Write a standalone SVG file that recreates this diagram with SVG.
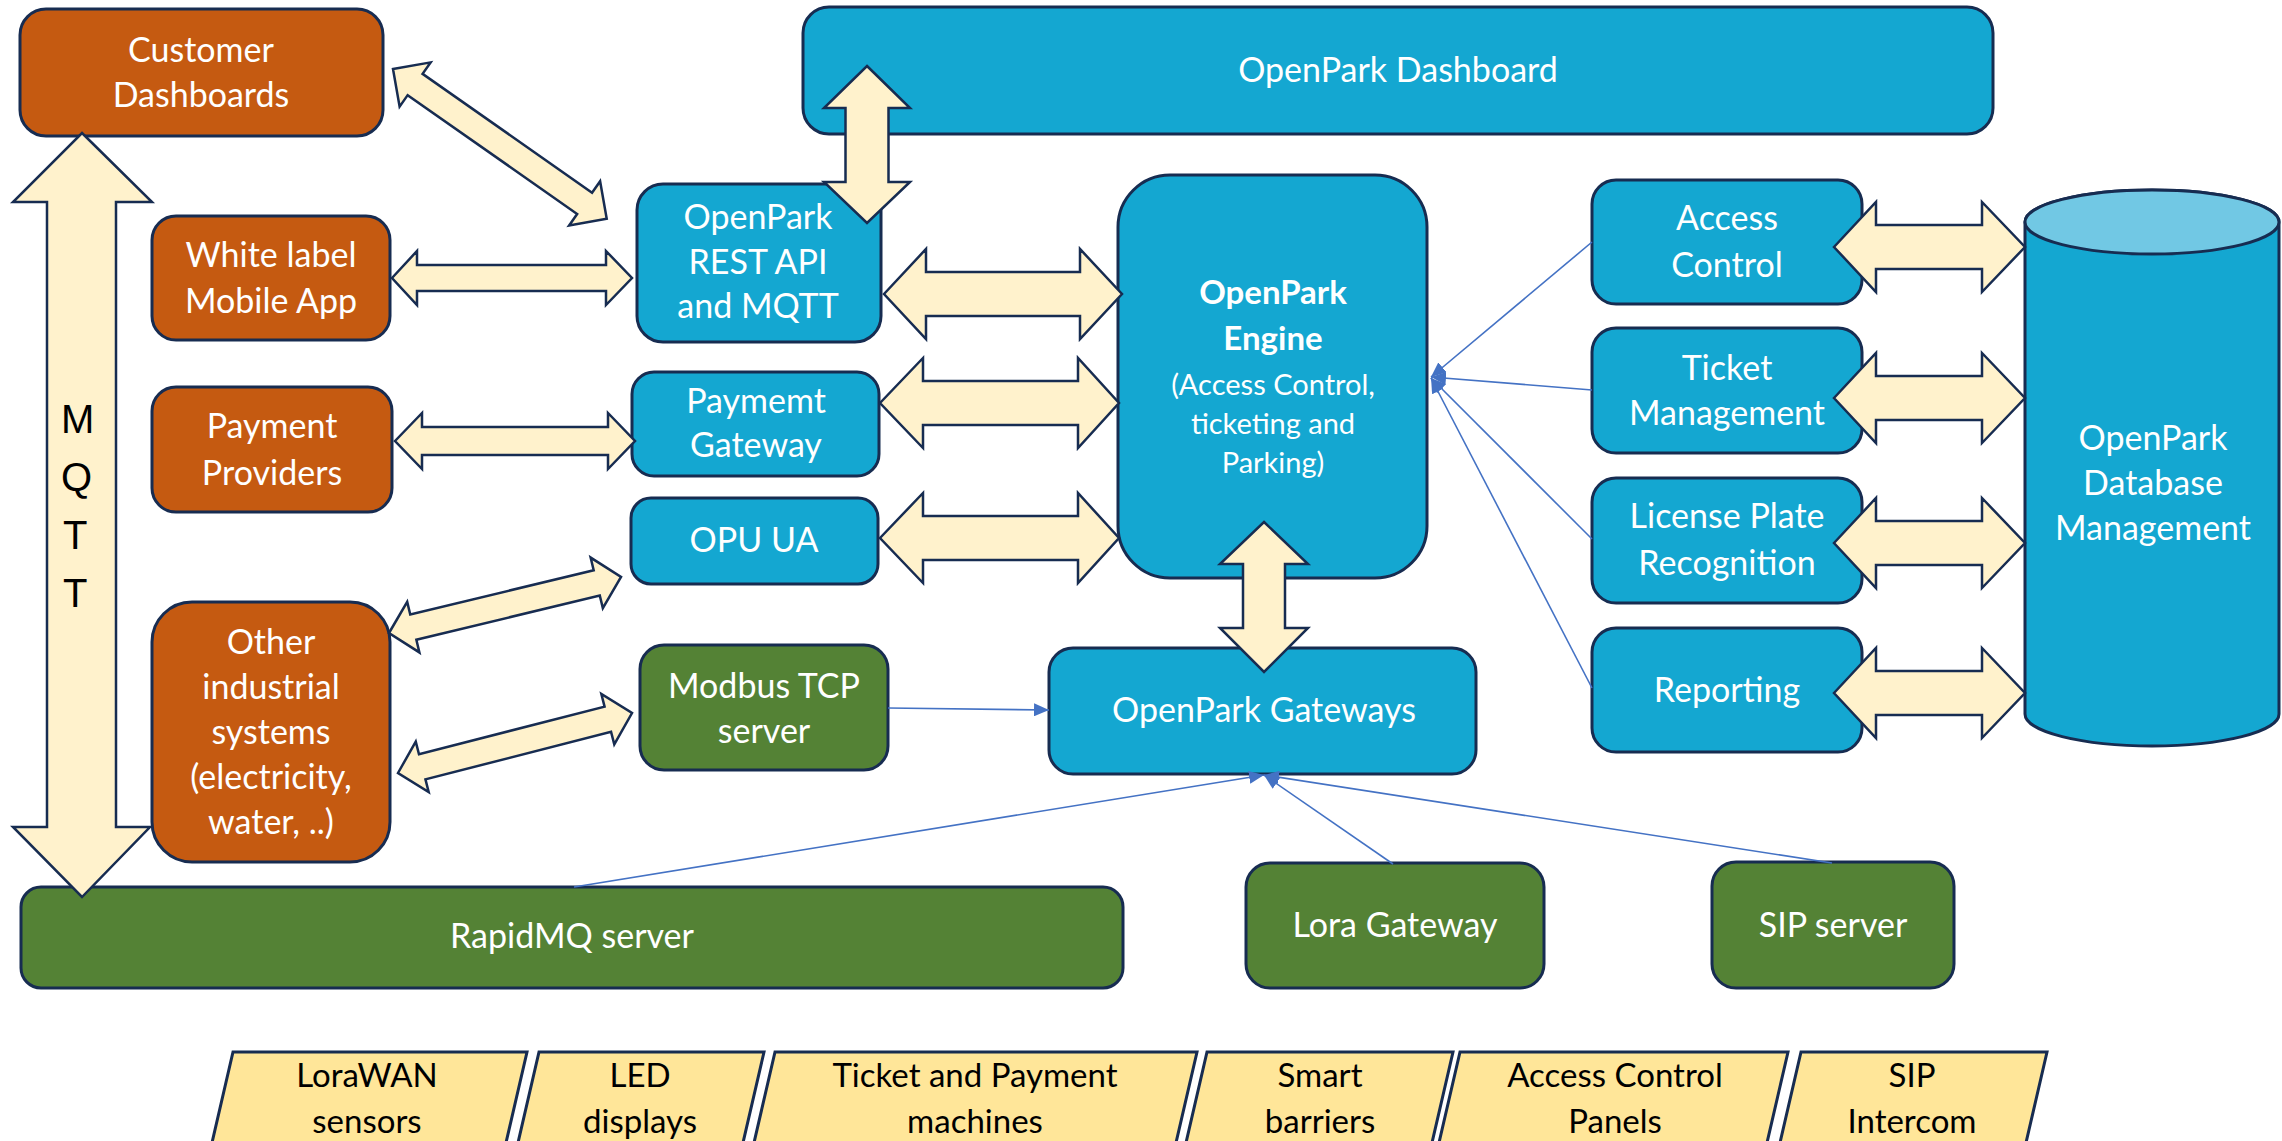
<svg xmlns="http://www.w3.org/2000/svg" width="2282" height="1141" viewBox="0 0 2282 1141">
<defs>
<style>
.box{stroke:#172C51;stroke-width:3}
.or{fill:#C55A11}
.bl{fill:#14A7D1}
.gr{fill:#548235}
.para{fill:#FFE699;stroke:#172C51;stroke-width:3}
.arr{fill:#FFF2CC;stroke:#172C51;stroke-width:2.5;stroke-linejoin:miter}
.ln{fill:none;stroke:#4472C4;stroke-width:1.6;marker-end:url(#ah)}
.t{font-family:Lato,"Open Sans",sans-serif;font-size:34px;fill:#FFFFFF;text-anchor:middle}
.ts{font-family:Lato,"Open Sans",sans-serif;font-size:29px;fill:#FFFFFF;text-anchor:middle}
.tb{font-family:Lato,"Open Sans",sans-serif;font-size:33px;font-weight:bold;fill:#FFFFFF;text-anchor:middle}
.tk{font-family:Lato,"Open Sans",sans-serif;font-size:33px;fill:#000000;text-anchor:middle}
.mq{font-family:"Liberation Sans",Arial,sans-serif;font-size:40px;fill:#000000}
</style>
<marker id="ah" markerUnits="userSpaceOnUse" markerWidth="15" markerHeight="13" refX="15" refY="6.5" orient="auto">
<path d="M0,0 L15,6.5 L0,13 Z" fill="#4472C4"/>
</marker>
</defs>
<rect width="2282" height="1141" fill="#FFFFFF"/>

<g id="nodes">
<g id="customer-dashboards">
<rect class="box or" x="20" y="9" width="363" height="127" rx="26"/>
<text class="t"><tspan x="201" y="62">Customer</tspan><tspan x="201" y="107">Dashboards</tspan></text>
</g>
<g id="white-label">
<rect class="box or" x="152" y="216" width="238" height="124" rx="24"/>
<text class="t"><tspan x="271" y="267">White label</tspan><tspan x="271" y="313">Mobile App</tspan></text>
</g>
<g id="payment-providers">
<rect class="box or" x="152" y="387" width="240" height="125" rx="24"/>
<text class="t"><tspan x="272" y="438">Payment</tspan><tspan x="272" y="485">Providers</tspan></text>
</g>
<g id="other-industrial">
<rect class="box or" x="152" y="602" width="238" height="260" rx="40"/>
<text class="t"><tspan x="271" y="654">Other</tspan><tspan x="271" y="699">industrial</tspan><tspan x="271" y="744">systems</tspan><tspan x="271" y="789">(electricity,</tspan><tspan x="271" y="834">water, ..)</tspan></text>
</g>
<g id="openpark-dashboard">
<rect class="box bl" x="803" y="7" width="1190" height="127" rx="26"/>
<text class="t" x="1398" y="82">OpenPark Dashboard</text>
</g>
<g id="rest-api">
<rect class="box bl" x="637" y="184" width="244" height="158" rx="26"/>
<text class="t"><tspan x="758" y="229">OpenPark</tspan><tspan x="758" y="274">REST API</tspan><tspan x="758" y="318">and MQTT</tspan></text>
</g>
<g id="payment-gateway">
<rect class="box bl" x="632" y="372" width="247" height="104" rx="22"/>
<text class="t"><tspan x="756" y="413">Paymemt</tspan><tspan x="756" y="457">Gateway</tspan></text>
</g>
<g id="opu-ua">
<rect class="box bl" x="631" y="498" width="247" height="86" rx="20"/>
<text class="t" x="754" y="552">OPU UA</text>
</g>
<g id="modbus">
<rect class="box gr" x="640" y="645" width="248" height="125" rx="24"/>
<text class="t"><tspan x="764" y="698">Modbus TCP</tspan><tspan x="764" y="743">server</tspan></text>
</g>
<g id="engine">
<rect class="box bl" x="1118" y="175" width="309" height="403" rx="52"/>
<text class="tb"><tspan x="1273" y="304">OpenPark</tspan><tspan x="1273" y="350">Engine</tspan></text>
<text class="ts"><tspan x="1273" y="395">(Access Control,</tspan><tspan x="1273" y="434">ticketing and</tspan><tspan x="1273" y="473">Parking)</tspan></text>
</g>
<g id="openpark-gateways">
<rect class="box bl" x="1049" y="648" width="427" height="126" rx="24"/>
<text class="t" x="1264" y="722">OpenPark Gateways</text>
</g>
<g id="access-control">
<rect class="box bl" x="1592" y="180" width="270" height="124" rx="24"/>
<text class="t"><tspan x="1727" y="230">Access</tspan><tspan x="1727" y="277">Control</tspan></text>
</g>
<g id="ticket-management">
<rect class="box bl" x="1592" y="328" width="270" height="125" rx="24"/>
<text class="t"><tspan x="1727" y="380">Ticket</tspan><tspan x="1727" y="425">Management</tspan></text>
</g>
<g id="license-plate">
<rect class="box bl" x="1592" y="478" width="270" height="125" rx="24"/>
<text class="t"><tspan x="1727" y="528">License Plate</tspan><tspan x="1727" y="575">Recognition</tspan></text>
</g>
<g id="reporting">
<rect class="box bl" x="1592" y="628" width="270" height="124" rx="24"/>
<text class="t" x="1727" y="702">Reporting</text>
</g>
<g id="database">
<path class="box bl" d="M2025,222 L2025,714 A127,32 0 0 0 2279,714 L2279,222 A127,32 0 0 0 2025,222 Z"/>
<ellipse class="box" cx="2152" cy="222" rx="127" ry="32" fill="#71C8E4"/>
<text class="t"><tspan x="2153" y="450">OpenPark</tspan><tspan x="2153" y="495">Database</tspan><tspan x="2153" y="540">Management</tspan></text>
</g>
<g id="rapidmq">
<rect class="box gr" x="21" y="887" width="1102" height="101" rx="20"/>
<text class="t" x="572" y="948">RapidMQ server</text>
</g>
<g id="lora-gateway">
<rect class="box gr" x="1246" y="863" width="298" height="125" rx="24"/>
<text class="t" x="1395" y="937">Lora Gateway</text>
</g>
<g id="sip-server">
<rect class="box gr" x="1712" y="862" width="242" height="126" rx="24"/>
<text class="t" x="1833" y="937">SIP server</text>
</g>
<g id="lorawan-sensors">
<polygon class="para" points="233,1052 527,1052 502,1160 208,1160"/>
<text class="tk"><tspan x="367" y="1087">LoraWAN</tspan><tspan x="367" y="1133">sensors</tspan></text>
</g>
<g id="led-displays">
<polygon class="para" points="539,1052 764,1052 739,1160 514,1160"/>
<text class="tk"><tspan x="640" y="1087">LED</tspan><tspan x="640" y="1133">displays</tspan></text>
</g>
<g id="ticket-payment-machines">
<polygon class="para" points="775,1052 1197,1052 1172,1160 750,1160"/>
<text class="tk"><tspan x="975" y="1087">Ticket and Payment</tspan><tspan x="975" y="1133">machines</tspan></text>
</g>
<g id="smart-barriers">
<polygon class="para" points="1207,1052 1453,1052 1428,1160 1182,1160"/>
<text class="tk"><tspan x="1320" y="1087">Smart</tspan><tspan x="1320" y="1133">barriers</tspan></text>
</g>
<g id="access-control-panels">
<polygon class="para" points="1460,1052 1788,1052 1763,1160 1435,1160"/>
<text class="tk"><tspan x="1615" y="1087">Access Control</tspan><tspan x="1615" y="1133">Panels</tspan></text>
</g>
<g id="sip-intercom">
<polygon class="para" points="1801,1052 2047,1052 2022,1160 1776,1160"/>
<text class="tk"><tspan x="1912" y="1087">SIP</tspan><tspan x="1912" y="1133">Intercom</tspan></text>
</g>
</g>

<g id="connectors">
<g id="mqtt-arrow">
<polygon class="arr" points="82,133 152,202 116,202 116,827 150,827 82,897 13,827 47,827 47,202 13,202"/>
<text class="mq"><tspan x="61" y="433">M</tspan><tspan x="61" y="491">Q</tspan><tspan x="63" y="549">T</tspan><tspan x="63" y="607">T</tspan></text>
</g>
<polygon class="arr" points="867,66 910,108 888.5,108 888.5,182 910,182 867,223 824,182 845.5,182 845.5,108 824,108"/>
<polygon class="arr" points="1264,522 1308,564 1285,564 1285,628 1308,628 1264,672 1220,628 1243,628 1243,564 1220,564"/>
<polygon class="arr" points="884,294 926,249 926,272 1080,272 1080,249 1122,294 1080,339 1080,316 926,316 926,339"/>
<polygon class="arr" points="880,403 923,358 923,381 1078,381 1078,358 1119,403 1078,448 1078,425 923,425 923,448"/>
<polygon class="arr" points="880,538 923,493 923,516 1078,516 1078,493 1119,538 1078,583 1078,560 923,560 923,583"/>
<polygon class="arr" points="1834,247 1876,202 1876,225 1982,225 1982,202 2025,247 1982,292 1982,269 1876,269 1876,292"/>
<polygon class="arr" points="1834,398 1876,353 1876,376 1982,376 1982,353 2025,398 1982,443 1982,420 1876,420 1876,443"/>
<polygon class="arr" points="1834,543 1876,498 1876,521 1982,521 1982,498 2025,543 1982,588 1982,565 1876,565 1876,588"/>
<polygon class="arr" points="1834,693 1876,648 1876,671 1982,671 1982,648 2025,693 1982,738 1982,715 1876,715 1876,738"/>
<polygon class="arr" points="392,278 417,251 417,265 606,265 606,251 632,278 606,305 606,291 417,291 417,305"/>
<polygon class="arr" points="395,441 422,413 422,427 608,427 608,413 635,441 608,469 608,455 422,455 422,469"/>
<path class="arr" d="M0,0 L27,-27 L27,-13 L234,-13 L234,-27 L261,0 L234,27 L234,13 L27,13 L27,27 Z" transform="translate(393,69) rotate(35.03)"/>
<path class="arr" d="M0,0 L25,-26 L25,-13 L213.7,-13 L213.7,-26 L238.7,0 L213.7,26 L213.7,13 L25,13 L25,26 Z" transform="translate(389,633) rotate(-13.57)"/>
<path class="arr" d="M0,0 L25,-26 L25,-13 L216.6,-13 L216.6,-26 L241.6,0 L216.6,26 L216.6,13 L25,13 L25,26 Z" transform="translate(398,773) rotate(-14.38)"/>
<line class="ln" x1="888" y1="708" x2="1049" y2="710"/>
<line class="ln" x1="1592" y1="242" x2="1431" y2="377"/>
<line class="ln" x1="1592" y1="390" x2="1431" y2="377"/>
<line class="ln" x1="1592" y1="539" x2="1431" y2="378"/>
<line class="ln" x1="1592" y1="688" x2="1431" y2="378"/>
<line class="ln" x1="574" y1="887" x2="1264" y2="775"/>
<line class="ln" x1="1393" y1="864" x2="1264" y2="775"/>
<line class="ln" x1="1832" y1="863" x2="1264" y2="775"/>
</g>
</svg>
